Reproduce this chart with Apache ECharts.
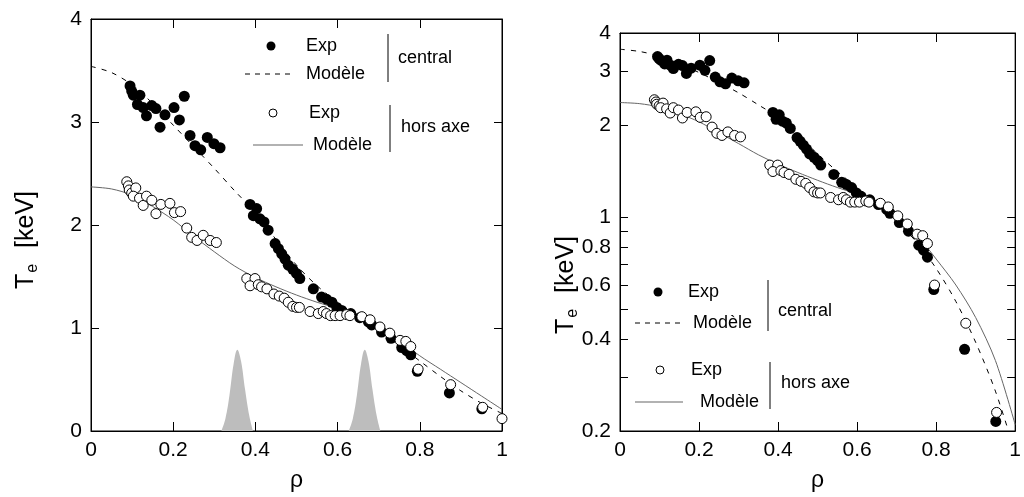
<!DOCTYPE html>
<html>
<head>
<meta charset="utf-8">
<script src="https://cdn.jsdelivr.net/npm/echarts@6/dist/echarts.min.js"></script>
<style>
html,body{margin:0;padding:0;background:#fff;}
#chart{width:1024px;height:497px;}
</style>
</head>
<body>
<div id="chart"></div>
<script>
// ---------- data ----------
const xTickValues = [0, 0.2, 0.4, 0.6, 0.8, 1];
const linYTickValues = [0, 1, 2, 3, 4];
const logTickValues = [0.2, 0.3, 0.4, 0.5, 0.6, 0.7, 0.8, 0.9, 1, 2, 3, 4];
const logLabelValues = [0.2, 0.4, 0.6, 0.8, 1, 2, 3, 4];

const modelRho = [0, 0.05, 0.1, 0.15, 0.2, 0.25, 0.3, 0.35, 0.4, 0.45, 0.5, 0.55, 0.6, 0.65, 0.7, 0.75, 0.8, 0.85, 0.9, 0.95, 1.0];
const centralModel = [3.54, 3.48, 3.36, 3.18, 2.97, 2.76, 2.55, 2.33, 2.12, 1.86, 1.61, 1.41, 1.25, 1.11, 0.97, 0.83, 0.68, 0.53, 0.39, 0.27, 0.17];
const horsModel = [2.37, 2.35, 2.29, 2.18, 2.05, 1.89, 1.74, 1.60, 1.49, 1.40, 1.32, 1.25, 1.19, 1.12, 1.03, 0.88, 0.73, 0.60, 0.47, 0.34, 0.21];

const centralExpRho = [0.095, 0.099, 0.103, 0.119, 0.113, 0.127, 0.135, 0.148, 0.158, 0.168, 0.18, 0.202, 0.215, 0.227, 0.241, 0.253, 0.267, 0.283, 0.299, 0.314,
  0.387, 0.403, 0.395, 0.411, 0.421, 0.431, 0.448, 0.456, 0.464, 0.472, 0.48, 0.491, 0.50, 0.508, 0.541, 0.561, 0.573, 0.586, 0.598, 0.61,
  0.632, 0.654, 0.675, 0.683, 0.707, 0.73, 0.756, 0.768, 0.778, 0.794, 0.872, 0.951];
const centralExpTe = [3.35, 3.30, 3.26, 3.26, 3.17, 3.14, 3.06, 3.16, 3.13, 2.95, 3.07, 3.14, 3.02, 3.25, 2.87, 2.77, 2.73, 2.85, 2.79, 2.75,
  2.20, 2.16, 2.09, 2.06, 2.03, 1.95, 1.82, 1.77, 1.72, 1.67, 1.61, 1.57, 1.53, 1.48, 1.38, 1.30, 1.28, 1.25, 1.20, 1.17,
  1.14, 1.10, 1.06, 1.03, 0.96, 0.90, 0.81, 0.78, 0.74, 0.58, 0.37, 0.215];

const horsExpRho = [0.087, 0.091, 0.093, 0.099, 0.109, 0.103, 0.118, 0.127, 0.135, 0.148, 0.158, 0.17, 0.192, 0.203, 0.218, 0.233, 0.245, 0.258, 0.273, 0.29, 0.305,
  0.379, 0.399, 0.387, 0.407, 0.415, 0.428, 0.445, 0.458, 0.47, 0.48, 0.491, 0.50, 0.507, 0.533, 0.553, 0.565, 0.573, 0.583, 0.594, 0.606, 0.622, 0.63,
  0.659, 0.679, 0.703, 0.727, 0.752, 0.766, 0.778, 0.796, 0.875, 0.953, 1.0];
const horsExpTe = [2.42, 2.38, 2.34, 2.31, 2.36, 2.28, 2.26, 2.19, 2.28, 2.24, 2.11, 2.20, 2.21, 2.12, 2.13, 1.97, 1.88, 1.85, 1.90, 1.85, 1.83,
  1.48, 1.48, 1.41, 1.42, 1.40, 1.38, 1.33, 1.31, 1.29, 1.25, 1.21, 1.20, 1.20, 1.16, 1.14, 1.16, 1.14, 1.12, 1.12, 1.12, 1.13, 1.12,
  1.11, 1.08, 1.01, 0.95, 0.88, 0.87, 0.82, 0.60, 0.45, 0.23, 0.12];

const peak1Rho = [0.317, 0.327, 0.337, 0.347, 0.356, 0.365, 0.375, 0.385, 0.394];
const peak1Val = [0, 0.12, 0.35, 0.65, 0.79, 0.68, 0.40, 0.15, 0];
const peak2Rho = [0.627, 0.637, 0.647, 0.657, 0.666, 0.675, 0.685, 0.695, 0.704];
const peak2Val = [0, 0.12, 0.35, 0.65, 0.79, 0.68, 0.40, 0.15, 0];

// ---------- helpers ----------
const zip = (a, b) => a.map((v, i) => [v, b[i]]);
const FONT = "'Liberation Sans', Arial, sans-serif";

const chart = echarts.init(document.getElementById('chart'), null, {renderer: 'canvas'});

function xAxisDef(grid, pos, labels) {
  return {
    gridIndex: grid, type: 'value', min: 0, max: 1, interval: 0.2, position: pos,
    axisLine: {show: true, onZero: false, lineStyle: {color: '#000', width: 1}},
    axisTick: {show: true, inside: true, length: 9, lineStyle: {color: '#000'}},
    axisLabel: {show: labels, color: '#000', fontSize: 21, fontFamily: FONT, margin: 9},
    splitLine: {show: false},
    name: labels ? 'ρ' : '', nameLocation: 'middle', nameGap: 38,
    nameTextStyle: {color: '#000', fontSize: 23, fontFamily: FONT}
  };
}

const logMin = Math.log10(0.2), logMax = Math.log10(4);
function logOverlay(pos, labels) {
  return {
    gridIndex: 1, type: 'value', min: logMin, max: logMax, position: pos,
    axisLine: {show: true, onZero: false, lineStyle: {color: '#000'}},
    axisTick: {show: true, inside: true, length: 8, lineStyle: {color: '#000'},
      customValues: logTickValues.map(v => Math.log10(v))},
    axisLabel: {show: labels, color: '#000', fontSize: 21, fontFamily: FONT, margin: 9,
      customValues: logLabelValues.map(v => Math.log10(v)),
      formatter: v => String(Math.round(Math.pow(10, v) * 10) / 10)},
    splitLine: {show: false}
  };
}

const dashStyle = {color: '#000', width: 1, type: [5, 6]};
const solidStyle = {color: '#666', width: 1};

function seriesFor(xi, yi, withPeaks) {
  const s = [];
  if (withPeaks) {
    [zip(peak1Rho, peak1Val), zip(peak2Rho, peak2Val)].forEach(d => s.push({
      type: 'line', xAxisIndex: xi, yAxisIndex: yi, data: d, smooth: 0.4, symbol: 'none',
      lineStyle: {width: 0}, areaStyle: {color: '#bdbdbd', opacity: 1}, z: 1, silent: true
    }));
  }
  s.push({type: 'line', xAxisIndex: xi, yAxisIndex: yi, data: zip(modelRho, centralModel), smooth: 0.3,
    symbol: 'none', lineStyle: dashStyle, z: 2, clip: true});
  s.push({type: 'line', xAxisIndex: xi, yAxisIndex: yi, data: zip(modelRho, horsModel), smooth: 0.3,
    symbol: 'none', lineStyle: solidStyle, z: 2, clip: true});
  s.push({type: 'scatter', xAxisIndex: xi, yAxisIndex: yi, data: zip(centralExpRho, centralExpTe),
    symbol: 'circle', symbolSize: 11, itemStyle: {color: '#000', opacity: 1}, z: 3, clip: true});
  s.push({type: 'scatter', xAxisIndex: xi, yAxisIndex: yi, data: zip(horsExpRho, horsExpTe),
    symbol: 'circle', symbolSize: 10, itemStyle: {color: '#fff', borderColor: '#000', borderWidth: 1, opacity: 1}, z: 4, clip: true});
  return s;
}

function legendGraphics(o) {
  const t = (x, y, text, size) => ({type: 'text', x, y, style: {text, fill: '#000', font: size + 'px ' + FONT, align: 'left', verticalAlign: 'middle'}});
  const ln = (x1, y1, x2, y2, st) => ({type: 'line', shape: {x1, y1, x2, y2}, style: st});
  const fs = o.fs;
  return [
    {type: 'circle', shape: {cx: o.dotX, cy: o.y1, r: 4.5}, style: {fill: '#000'}},
    t(o.expX, o.y1, 'Exp', fs),
    ln(o.lx1, o.y2, o.lx2, o.y2, {stroke: '#000', lineWidth: 1, lineDash: [5, 5]}),
    t(o.modX, o.y2, 'Modèle', fs),
    ln(o.barX, o.y1 - 12, o.barX, o.y2 + 8, {stroke: '#000', lineWidth: 1}),
    t(o.barX + 10, o.cY1, 'central', fs),
    {type: 'circle', shape: {cx: o.dotX + 2, cy: o.y3, r: 4}, style: {fill: '#fff', stroke: '#000', lineWidth: 1}},
    t(o.expX + 3, o.y3, 'Exp', fs),
    ln(o.lx1 + o.sx, o.y4, o.lx2 + o.sx, o.y4, {stroke: '#666', lineWidth: 1.2}),
    t(o.modX + 7, o.y4, 'Modèle', fs),
    ln(o.barX + 2, o.y3 - 8, o.barX + 2, o.y4 + 7, {stroke: '#000', lineWidth: 1}),
    t(o.barX + 13, o.cY2, 'hors axe', fs)
  ];
}

function yName(x, y) {
  return {type: 'text', x, y, rotation: Math.PI / 2,
    style: {text: '{t|T}{s|e}{g|[keV]}', align: 'center', verticalAlign: 'middle', fill: '#000',
      rich: {
        t: {fontSize: 25, fontFamily: FONT, fill: '#000'},
        s: {fontSize: 16, fontFamily: FONT, fill: '#000', padding: [14, 0, 0, 1]},
        g: {fontSize: 25, fontFamily: FONT, fill: '#000', padding: [0, 0, 0, 16]}
      }}};
}

const option = {
  animation: false,
  backgroundColor: '#fff',
  grid: [
    {left: 91, top: 19, width: 411, height: 414, show: true, borderColor: '#000', borderWidth: 1, backgroundColor: 'transparent'},
    {left: 620, top: 33, width: 400, height: 400, show: true, borderColor: '#000', borderWidth: 1, backgroundColor: 'transparent'}
  ],
  xAxis: [xAxisDef(0, 'bottom', true), xAxisDef(0, 'top', false), xAxisDef(1, 'bottom', true), xAxisDef(1, 'top', false)],
  yAxis: [
    {gridIndex: 0, type: 'value', min: 0, max: 4, interval: 1, position: 'left',
      axisLine: {show: true, onZero: false, lineStyle: {color: '#000'}},
      axisTick: {show: true, inside: true, length: 8, lineStyle: {color: '#000'}},
      axisLabel: {color: '#000', fontSize: 21, fontFamily: FONT, margin: 9},
      splitLine: {show: false}},
    {gridIndex: 0, type: 'value', min: 0, max: 4, interval: 1, position: 'right',
      axisLine: {show: true, onZero: false, lineStyle: {color: '#000'}},
      axisTick: {show: true, inside: true, length: 8, lineStyle: {color: '#000'}},
      axisLabel: {show: false}, splitLine: {show: false}},
    {gridIndex: 1, type: 'log', logBase: 10, min: 0.2, max: 4, show: false, splitLine: {show: false}},
    logOverlay('left', true),
    logOverlay('right', false)
  ],
  series: [].concat(seriesFor(0, 0, true), seriesFor(2, 2, false)),
  graphic: [].concat(
    legendGraphics({dotX: 271, y1: 46, expX: 306, y2: 74, lx1: 245, lx2: 295, modX: 306, barX: 388, cY1: 58,
      y3: 113, y4: 145, sx: 8, cY2: 127, fs: 18}),
    legendGraphics({dotX: 658, y1: 292, expX: 688, y2: 323, lx1: 635, lx2: 683, modX: 693, barX: 768, cY1: 311,
      y3: 370, y4: 402, sx: 0, cY2: 383, fs: 18}),
    [yName(26, 240), yName(566, 285)]
  )
};
chart.setOption(option);
</script>
</body>
</html>
